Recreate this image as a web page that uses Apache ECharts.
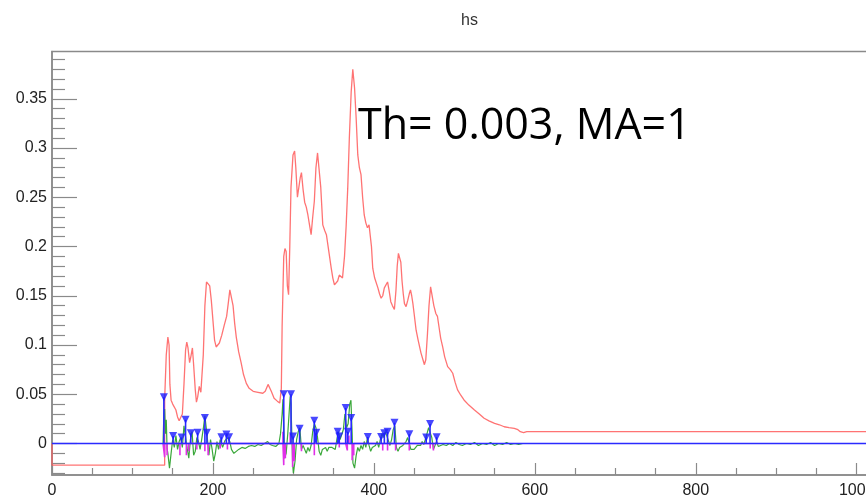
<!DOCTYPE html>
<html>
<head>
<meta charset="utf-8">
<title>hs</title>
<script src="https://cdn.jsdelivr.net/npm/echarts@6/dist/echarts.min.js"></script>
<style>
  html, body { margin: 0; padding: 0; background: #fff; }
  #chart { width: 866px; height: 498px; }
</style>
</head>
<body>
<div id="chart"></div>
<script>
// ---- source spectrum (red histogram) ----
const srcX = [0, 0, 140, 140, 142, 144, 145.5, 146.5, 148, 150, 152, 154, 156, 158, 160, 162, 164, 166, 167.5, 169, 171, 172.5, 174.5, 176, 178, 179.5, 181, 183, 185, 186.5, 188, 190, 192, 194, 196, 198, 200, 202, 204, 206, 208, 211, 214, 217, 219, 221, 223, 225, 227, 229, 232, 235, 238, 241.5, 245, 250, 256, 262, 265, 268.5, 270, 272.5, 276, 280, 283, 285, 286, 288, 289.5, 291, 292.5, 294, 295.5, 297, 299.5, 301.5, 303, 305, 306.5, 308.5, 310, 312, 314, 316, 318, 320, 322, 324, 326, 328, 330, 332, 334, 336.5, 339, 341, 344, 347, 349, 351, 353, 355, 357, 359, 361, 363.5, 365.5, 367.5, 369.5, 371.8, 373.8, 376, 378, 380, 382, 384, 386, 388, 390, 392, 394, 395.5, 397, 398.6, 401, 405, 407, 409, 411, 413, 415, 417, 419, 421, 423, 425.5, 427.5, 429, 430.5, 432, 433.5, 435, 436.5, 438, 440, 442, 444, 445.5, 447, 448.5, 450, 452.5, 455, 458.5, 461, 462.8, 464.5, 466.5, 468.5, 470.5, 472.5, 474.5, 477, 479, 481, 483, 485.5, 488, 491.7, 495, 498, 501, 504, 508, 512, 518, 525, 531, 537, 543, 550, 556, 562, 568, 574.5, 579, 582, 586, 590, 1024];
const srcY = [0, -0.022, -0.022, 0.045, 0.09, 0.108, 0.1, 0.06, 0.044, 0.04, 0.042, 0.034, 0.027, 0.023, 0.022, 0.03, 0.06, 0.095, 0.103, 0.097, 0.082, 0.088, 0.097, 0.08, 0.055, 0.042, 0.047, 0.058, 0.052, 0.05, 0.09, 0.14, 0.164, 0.162, 0.16, 0.145, 0.125, 0.105, 0.098, 0.097, 0.102, 0.11, 0.12, 0.129, 0.142, 0.156, 0.155, 0.14, 0.122, 0.108, 0.093, 0.082, 0.07, 0.061, 0.056, 0.053, 0.052, 0.051, 0.053, 0.06, 0.058, 0.053, 0.046, 0.043, 0.041, 0.056, 0.12, 0.19, 0.198, 0.195, 0.16, 0.151, 0.2, 0.26, 0.293, 0.297, 0.28, 0.25, 0.252, 0.27, 0.275, 0.258, 0.245, 0.24, 0.232, 0.222, 0.212, 0.23, 0.246, 0.28, 0.295, 0.294, 0.26, 0.222, 0.216, 0.212, 0.195, 0.178, 0.168, 0.161, 0.159, 0.165, 0.171, 0.17, 0.168, 0.19, 0.22, 0.259, 0.31, 0.357, 0.38, 0.361, 0.33, 0.293, 0.28, 0.273, 0.25, 0.232, 0.224, 0.219, 0.222, 0.221, 0.2, 0.178, 0.168, 0.158, 0.152, 0.1475, 0.15, 0.158, 0.16, 0.164, 0.155, 0.144, 0.14, 0.136, 0.156, 0.18, 0.193, 0.192, 0.184, 0.165, 0.152, 0.142, 0.139, 0.145, 0.152, 0.156, 0.15, 0.142, 0.132, 0.115, 0.105, 0.092, 0.085, 0.08, 0.085, 0.11, 0.14, 0.159, 0.157, 0.14, 0.132, 0.129, 0.118, 0.107, 0.098, 0.088, 0.078, 0.075, 0.0713, 0.062, 0.0544, 0.049, 0.0442, 0.039, 0.034, 0.03, 0.0256, 0.023, 0.0205, 0.019, 0.017, 0.016, 0.0154, 0.014, 0.012, 0.011, 0.012, 0.012];

// ---- filtered signal (green) ----
const filtX = [138, 139, 140, 141, 142, 143, 144, 146, 148, 150, 152, 154, 156, 158, 160, 162, 164, 166, 168, 170, 172, 174, 176, 178, 180, 182, 184, 186, 188, 190, 191, 193, 195, 197, 199, 201, 203, 205, 207, 209, 212, 215, 218, 221, 223, 226, 229, 232, 236, 240, 244, 248, 252, 256, 260, 264, 268, 271, 274, 278, 282, 284, 286, 287, 288, 289, 291, 293, 295, 296, 297, 298, 299, 300, 302, 304, 306, 308, 310, 312, 314, 316, 318, 320, 322, 324, 326, 328, 330, 332, 334, 336, 338, 340, 342, 344, 346, 348, 350, 352, 354, 356, 358, 360, 362, 364, 366, 368, 370, 371.5, 373, 374, 376, 378, 380, 382, 384, 386, 388, 390, 392, 394, 396, 398, 400, 402, 404, 406, 408, 410, 412, 414, 416, 418, 420, 422, 424, 426, 428, 430, 432, 434, 436, 438, 440, 442, 444, 446, 448, 450, 452, 454, 456, 458, 460, 462, 464, 466, 468, 470, 472, 474, 476, 478, 480, 483, 486, 490, 494, 498, 502, 506, 510, 515, 520, 525, 530, 535, 540, 545, 550, 555, 560, 565, 570, 575, 580, 585];
const filtY = [0, 0.03, 0.035, 0.01, 0.024, -0.005, -0.01, -0.025, -0.01, 0.004, -0.004, 0.008, -0.006, 0.002, 0.006, -0.004, 0.018, 0.02, -0.005, -0.015, 0.004, 0.012, -0.012, -0.008, 0.006, 0.002, -0.006, 0.004, 0.015, 0.028, 0.03, 0.006, -0.012, 0.004, -0.006, -0.018, -0.01, 0.002, -0.006, 0.004, -0.004, 0.003, 0.006, 0.002, -0.006, -0.01, -0.008, -0.006, -0.004, -0.005, -0.003, -0.002, -0.003, -0.001, -0.002, 0, 0.002, -0.001, -0.002, -0.003, 0, 0.01, 0.03, 0.045, 0.02, -0.015, -0.01, 0.01, 0.035, 0.048, 0.04, 0.01, -0.02, -0.03, -0.018, 0.004, 0.012, 0.016, -0.006, -0.002, -0.006, -0.01, -0.004, -0.008, -0.002, 0.012, 0.02, 0.016, 0.006, -0.008, -0.012, -0.006, -0.008, -0.004, -0.008, -0.004, -0.006, -0.004, -0.002, -0.006, 0.004, 0.012, 0.004, 0.006, 0.014, 0.03, 0.016, 0.02, 0.04, 0.044, 0.01, -0.02, -0.025, -0.012, -0.004, -0.008, -0.002, -0.006, 0.002, -0.004, 0.006, -0.002, -0.008, -0.004, -0.006, -0.002, 0.002, -0.004, 0.004, 0.01, 0.006, 0.012, 0.008, 0.006, -0.002, 0.004, 0.014, 0.018, -0.004, -0.008, -0.004, -0.006, -0.002, -0.004, 0.002, 0.006, 0.006, -0.006, -0.004, -0.006, -0.004, -0.002, -0.004, -0.002, 0.002, -0.001, 0.004, 0.01, 0.016, 0.018, 0.006, -0.006, -0.004, 0.002, -0.003, -0.002, -0.001, -0.002, 0, -0.002, 0.001, -0.001, -0.002, 0, -0.001, 0.001, -0.002, 0, -0.001, 0.001, -0.002, 0, -0.001, 0.001, -0.001, 0, -0.001, 0];

// ---- residual spikes (magenta) ----
const residX = [140, 143, 159, 167, 170, 180, 190, 194, 209, 218, 287, 288, 290, 296, 299, 301, 310, 326, 357, 365, 367, 369, 373, 375, 411, 417, 427, 444, 470, 474];
const residY = [-0.014, -0.012, -0.012, -0.012, -0.008, -0.006, -0.008, -0.012, -0.005, -0.006, 0.012, -0.022, -0.015, 0.01, -0.024, -0.018, -0.008, -0.012, -0.004, 0.01, -0.007, 0.008, -0.017, -0.012, -0.007, -0.007, -0.007, -0.007, -0.005, -0.007];

// ---- found peaks (blue) ----
const peakX = [139, 150.5, 161, 166, 172.5, 181, 190, 192.5, 210.5, 216.7, 220, 288, 297, 299.6, 307.7, 326, 328.4, 355, 357, 365, 367.6, 371.8, 392.5, 409, 413, 417, 425.6, 444, 465, 469.8, 478];
const peakY = [0.047, 0.0076, 0.006, 0.024, 0.0104, 0.011, 0.026, 0.011, 0.0063, 0.009, 0.0063, 0.05, 0.05, 0.007, 0.015, 0.023, 0.011, 0.012, 0.007, 0.036, 0.012, 0.026, 0.0065, 0.0065, 0.0104, 0.012, 0.021, 0.0093, 0.006, 0.0198, 0.0063];

// ---- axes ----
const xMin = 0, xMax = 1024, xStep = 200;
const yMin = -0.032, yMax = 0.398;
const yMajor = [0, 0.05, 0.1, 0.15, 0.2, 0.25, 0.3, 0.35];
const yMinor = [-0.03, -0.02, -0.01, 0.01, 0.02, 0.03, 0.04, 0.06, 0.07, 0.08, 0.09, 0.11, 0.12, 0.13, 0.14, 0.16, 0.17, 0.18, 0.19, 0.21, 0.22, 0.23, 0.24, 0.26, 0.27, 0.28, 0.29, 0.31, 0.32, 0.33, 0.34, 0.36, 0.37, 0.38, 0.39];

const titleText = 'hs';
const noteText = 'Th= 0.003, MA=1';

// helpers: pair arrays, and stems drawn from the zero line
const pairs = (xs, ys) => xs.map((x, i) => [x, ys[i]]);
function stems(xs, ys, x0, x1) {
  const out = [[x0, 0]];
  xs.forEach((x, i) => { out.push([x, 0], [x, ys[i]], [x, 0]); });
  out.push([x1, 0]);
  return out;
}

const axisGrey = '#8a8a8a';
const labelFont = { fontFamily: 'Liberation Sans, Arial, sans-serif', fontSize: 16, color: '#222' };

const chart = echarts.init(document.getElementById('chart'), null, { renderer: 'canvas' });
chart.setOption({
  animation: false,
  backgroundColor: '#fff',
  title: {
    text: titleText, left: 456, top: 8,
    textStyle: { fontFamily: 'Liberation Sans, Arial, sans-serif', fontSize: 16, fontWeight: 'normal', color: '#333' }
  },
  grid: {
    left: 52, top: 51.5, width: 824, height: 423.5,
    outerBoundsMode: 'none', containLabel: false,
    show: true, borderColor: axisGrey, borderWidth: 1.5, backgroundColor: 'transparent'
  },
  xAxis: {
    type: 'value', min: xMin, max: xMax, interval: xStep,
    axisLine: { show: true, onZero: false, lineStyle: { color: axisGrey, width: 1.5 } },
    axisTick: { show: true, inside: true, length: 12, lineStyle: { color: axisGrey, width: 1.2 } },
    minorTick: { show: true, splitNumber: 4, length: 7, lineStyle: { color: axisGrey, width: 1.2 } },
    axisLabel: Object.assign({ margin: 8, showMaxLabel: false, formatter: v => String(v) }, labelFont),
    splitLine: { show: false }, minorSplitLine: { show: false }
  },
  yAxis: [
    {
      type: 'value', min: yMin, max: yMax, position: 'left',
      axisLine: { show: true, onZero: false, lineStyle: { color: axisGrey, width: 1.5 } },
      axisTick: { show: true, inside: true, length: 25, customValues: yMajor, lineStyle: { color: axisGrey, width: 1.2 } },
      axisLabel: Object.assign({
        margin: 5, customValues: yMajor,
        formatter: v => String(+(+v).toFixed(2))
      }, labelFont),
      splitLine: { show: false }
    },
    {
      type: 'value', min: yMin, max: yMax, position: 'left',
      axisLine: { show: false },
      axisTick: { show: true, inside: true, length: 13, customValues: yMinor, lineStyle: { color: axisGrey, width: 1.2 } },
      axisLabel: { show: false },
      splitLine: { show: false }
    }
  ],
  series: [
    {
      name: 'source', type: 'line', data: pairs(srcX, srcY), showSymbol: false,
      lineStyle: { color: '#ff5a5a', width: 1.3, opacity: 0.85 }, z: 2
    },
    {
      name: 'filtered', type: 'line', data: pairs(filtX, filtY), showSymbol: false,
      lineStyle: { color: '#3aa83a', width: 1.2 }, z: 3
    },
    {
      name: 'residual', type: 'line', data: stems(residX, residY, 138, 480), showSymbol: false,
      lineStyle: { color: '#e030e8', width: 1.6 }, z: 4
    },
    {
      name: 'peaks', type: 'line', data: stems(peakX, peakY, xMin, xMax), showSymbol: false,
      lineStyle: { color: '#2b2bff', width: 1.6 }, z: 5
    },
    {
      name: 'peak markers', type: 'scatter', data: pairs(peakX, peakY),
      symbol: 'triangle', symbolRotate: 180, symbolSize: [8, 8],
      itemStyle: { color: '#1a1aff' }, z: 6
    }
  ],
  graphic: [{
    type: 'text', x: 358, y: 127, z: 10,
    style: {
      text: noteText, fill: '#000',
      font: '43px "Open Sans", "Liberation Sans", sans-serif',
      align: 'left', verticalAlign: 'middle'
    }
  }]
});
</script>
</body>
</html>
